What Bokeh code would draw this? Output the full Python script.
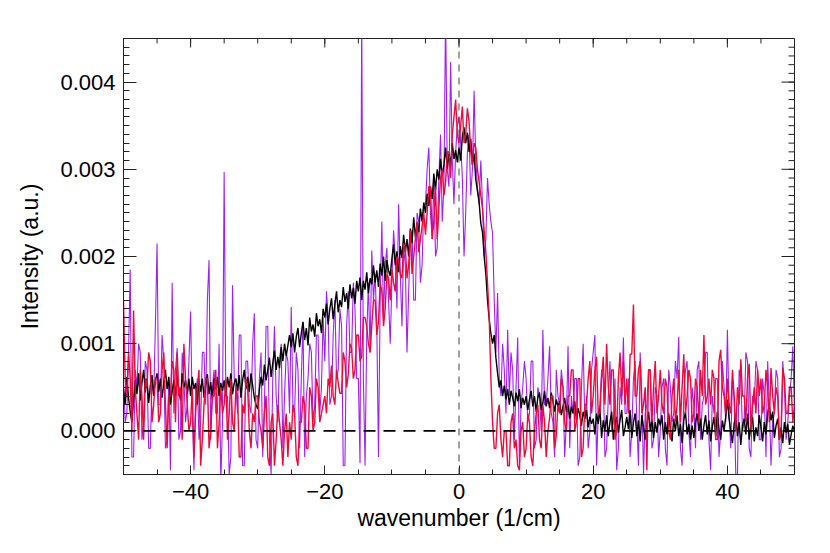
import numpy as np
from bokeh.plotting import figure
from bokeh.models import FixedTicker, NumeralTickFormatter, Range1d, Span
from bokeh.embed import file_html
from bokeh.resources import INLINE

# wavenumber grid (1/cm), 0.25 step
wavenumber = np.linspace(-50, 50, 401)

# intensities in units of 1e-5 (a.u.); each row covers 5 cm^-1
black_e5 = [
    48, 30, 62, 38, 22, 10, 35, 58, 42, 66, 35, 55, 70, 44, 60, 32, 52, 64, 40, 58,
    66, 45, 60, 38, 55, 70, 48, 62, 30, 45, 58, 40, 62, 48, 35, 66, 50, 58, 42, 60,
    40, 62, 48, 55, 30, 58, 45, 60, 38, 52, 65, 42, 56, 36, 60, 48, 62, 40, 55, 46,
    58, 40, 62, 50, 66, 42, 55, 60, 46, 64, 38, 58, 70, 48, 62, 45, 66, 52, 38, 30,
    25, 48, 62, 52, 76, 58, 70, 84, 62, 78, 92, 70, 85, 72, 96, 80, 100, 86, 98, 110,
    96, 112, 90, 108, 118, 96, 112, 125, 104, 118, 98, 130, 114, 122, 108, 135, 120, 128, 112, 140,
    130, 146, 122, 140, 152, 128, 145, 160, 136, 150, 142, 165, 148, 158, 140, 168, 152, 164, 146, 172,
    160, 176, 150, 172, 162, 182, 158, 175, 168, 190, 170, 184, 165, 192, 178, 200, 172, 196, 184, 178,
    198, 214, 190, 206, 182, 212, 198, 225, 205, 220, 200, 232, 215, 245, 222, 238, 228, 255, 240, 262,
    250, 272, 258, 280, 266, 295, 276, 300, 288, 312, 292, 305, 325, 300, 318, 305, 330, 312, 322, 308,
    325, 310, 338, 348, 330, 342, 320, 335, 305, 318, 288, 275, 262, 238, 228, 200, 180, 150, 128, 112,
    100, 110, 84, 66, 50, 58, 40, 52, 36, 48, 30, 46, 38, 28, 44, 34, 48, 26, 38, 30,
    40, 24, 36, 46, 28, 40, 22, 38, 44, 24, 32, 46, 28, 38, 26, 44, 34, 22, 36, 28,
    34, 18, 28, 38, 22, 30, 14, 28, 20, 34, 12, 26, 18, 6, 22, 14, 24, 4, 16, 8,
    14, -4, 20, 8, 26, -8, 12, 0, 18, -6, 10, 22, -10, 6, 16, -2, 12, 24, -6, 4,
    16, 2, 24, -8, 10, 20, -6, 12, -12, 18, 4, -10, 8, 22, 0, 14, -8, 10, -2, 14,
    6, 18, -10, 10, -4, 20, 2, -12, 14, 0, 18, -6, 8, -14, 12, 22, -4, 8, -10, 6,
    -8, 10, 20, 0, 14, -10, 6, 18, -4, 12, -12, 4, 16, -6, 22, 2, -10, 12, 0, 16,
    36, 14, 0, -14, 8, 18, -6, 10, -16, 6, 14, -4, 20, -10, 6, 16, -12, 4, -6, 18,
    4, -12, 10, -4, 20, 30, 12, 22, -8, 6, 14, -10, 4, -14, 10, -2, 8, -16, -4, 6,
    0,
]

purple_e5 = [
    60, 10, 20, 90, 185, -30, -30, 70, 50, 100, 90, -10, 10, 80, 70, -20, -20, 60, 40, 120,
    215, 30, 30, 110, 80, -20, -10, 60, -45, 170, 20, 70, 95, -10, 0, 90, 60, 10, 30, 80,
    137, 20, -45, 40, 60, -10, 10, 90, 90, 30, 150, 196, -10, 50, 70, 20, 20, 100, -60, 10,
    297, 40, 40, -50, -30, 167, 60, 50, 20, 110, 110, -40, -40, 80, 80, 30, 20, 100, 135, -10,
    -20, 60, 90, -30, 30, 120, 120, -10, -50, 60, 120, 40, 10, 80, 100, -20, 40, 90, 80, 20,
    142, 30, 20, 90, 70, -20, 60, 125, -30, 40, 60, 100, 90, 10, 30, 110, 110, 20, 50, 130,
    80, 160, 130, 30, 40, 110, 150, 60, 70, 140, 120, -40, -40, 120, 160, 90, 90, 170, 140, 60,
    60, -37, 480, 60, -40, 110, 170, 90, 207, 150, 180, 120, -30, 150, 240, 130, 190, 210, 150, 100,
    170, 230, 200, 140, 260, 180, 120, 210, 190, 90, 160, 220, 230, 150, 150, 250, 240, 170, 190, 260,
    260, 300, 325, 250, 220, 290, 200, 210, 290, 340, 240, 280, 480, 300, 280, 423, 310, 260, 320, 350,
    360, 330, 290, 200, 250, 320, 340, 270, 300, 390, 310, 280, 260, 310, 260, 200, 220, 290, 260, 240,
    227, 150, 90, 158, 60, 40, 100, 70, 20, 116, 40, 90, 70, -10, 50, 107, -37, 30, 50, 80,
    60, 10, 20, 80, 80, -20, -10, 50, 40, 0, 116, 30, 30, 60, 97, 20, 10, -30, 70, 40,
    30, 70, 50, -30, 10, 97, -20, 40, 20, 60, 60, -40, -30, 50, 100, 10, 40, -20, 0, 70,
    90, 110, -40, 20, 30, 70, 60, -30, -20, 40, 80, 0, 10, 60, -45, -20, 50, 30, 107, 20,
    20, 60, -30, 0, 60, 80, 10, -40, 90, 40, -50, 20, 30, 70, 70, -20, -10, 50, 40, -30,
    0, 50, 60, -20, -40, 70, 50, 10, 20, 80, 60, 108, -20, -40, 40, 70, 80, 0, -30, 50,
    30, -20, 70, 80, -10, 30, 40, 90, 90, -10, -45, 40, 20, 60, 60, -30, 0, 80, 50, 10,
    116, 20, -20, 60, 40, -50, -50, 70, 60, 0, 10, 90, 80, -20, -30, 40, 30, 80, 70, -10,
    -10, 60, 40, -30, 80, 30, -40, 10, 20, 70, 60, -30, -20, 80, 50, -10, 10, 40, 60, 97,
    20,
]

red_e5 = [
    150, 60, 40, 90, 60, 0, 138, 50, 20, -10, 70, 40, -10, 60, 50, 90, 80, 10, 30, 60,
    60, 10, 20, 70, 90, 30, -20, 40, 40, 80, 70, 10, 90, 40, 50, -10, 100, 60, 30, 0,
    10, 50, -30, 20, 50, 70, -40, -10, 30, 60, 60, -20, 0, 40, 40, 70, -20, 10, 50, 20,
    30, 60, -10, 20, 60, 10, 0, 50, 40, -30, -30, 30, 20, 60, 50, 0, -20, 20, 10, 40,
    40, 10, 0, -20, 20, 40, -30, -40, 10, 20, -40, -10, 30, 10, -10, -40, 0, 20, -30, 10,
    -10, 30, 20, -30, -40, 10, 10, 40, 30, -20, -20, 50, 40, 0, 10, 60, 50, 10, 20, 30,
    40, 20, 60, 50, 75, 40, 30, 70, 55, 43, 43, 90, 80, 50, 65, 100, 95, 60, 70, 110,
    110, 80, 85, 130, 130, 120, 100, 90, 120, 150, 150, 110, 125, 170, 160, 120, 140, 180, 175, 150,
    185, 170, 160, 200, 195, 180, 175, 215, 210, 175, 190, 230, 180, 200, 220, 240, 205, 220, 235, 250,
    225, 250, 280, 280, 220, 240, 280, 220, 255, 290, 300, 270, 285, 320, 320, 290, 340, 360, 380, 340,
    330, 350, 372, 330, 340, 370, 355, 320, 305, 330, 325, 300, 285, 270, 255, 230, 205, 170, 130, 60,
    10, -20, -20, 20, 30, -10, -30, 0, 0, -40, -40, 10, 20, -20, -10, -40, -45, 0, 10, -30,
    -20, 20, 10, -30, -40, 0, 20, 30, -10, -20, 30, 10, -30, 0, 15, 40, 40, -20, -5, 30,
    20, 60, 50, 10, 0, 40, 40, 70, 70, 0, 10, 60, 60, -30, -20, 30, 30, 60, 80, 20,
    40, 70, 85, 20, 20, 60, 85, 30, 100, 50, 30, 70, 70, -10, 0, 60, 90, 40, 80, 30,
    60, 20, 88, 88, 145, 40, 40, 70, 80, 20, 30, 50, -45, 70, 70, 10, 50, 80, 20, 40,
    70, 30, 20, 60, 50, 0, -10, 40, 60, 10, 30, 70, 10, 50, 88, 20, 40, 70, 60, 10,
    20, 60, 50, 10, 70, 40, 110, 30, 40, 60, 30, 70, 60, -10, -10, 80, 93, 50, 40, 20,
    60, 30, 20, 70, 40, 0, 50, 30, 82, 40, 40, 10, 60, 77, 0, 30, 50, 20, 70, 40,
    60, 20, 30, 70, 50, 10, 72, 40, 20, 50, 40, -10, 0, 72, 60, 20, 20, 50, 50, 10,
    30,
]

x_major = [-40, -20, 0, 20, 40]
x_minor = list(range(-50, 51, 5))
y_major = [0.0, 0.001, 0.002, 0.003, 0.004]
y_minor = [round(-0.0005 + 0.0001 * i, 4) for i in range(51)]

assert len(black_e5) == len(purple_e5) == len(red_e5) == len(wavenumber)

scale = 1e-5
black = np.array(black_e5) * scale
purple = np.array(purple_e5) * scale
red = np.array(red_e5) * scale

X0, X1, Y0, Y1 = -50, 50, -0.0005, 0.0045
FONT = "Liberation Sans"
AX = "#222222"

p = figure(width=822, height=545, output_backend="svg", toolbar_location=None,
           x_range=Range1d(X0, X1), y_range=Range1d(Y0, Y1),
           x_axis_label="wavenumber (1/cm)", y_axis_label="Intensity (a.u.)",
           min_border_left=123, min_border_right=28, min_border_top=38,
           min_border_bottom=71)
p.grid.visible = False
p.outline_line_color = AX
p.outline_line_width = 1
p.background_fill_color = "white"
p.border_fill_color = "white"

p.line(wavenumber, purple, line_color="#A020F0", line_width=1.1)
p.line(wavenumber, black, line_color="black", line_width=1.4)
p.line(wavenumber, red, line_color="#EC0A3C", line_width=1.4)

p.add_layout(Span(location=0, dimension="width", line_color="black",
                  line_width=1.6, line_dash="12 8"))
p.add_layout(Span(location=0, dimension="height", line_color="#444444",
                  line_width=1, line_dash="7 6"))

xa = p.xaxis[0]
xa.ticker = FixedTicker(ticks=x_major, minor_ticks=x_minor)
xa.major_tick_in, xa.major_tick_out = 9, 0
xa.minor_tick_in, xa.minor_tick_out = 5, 0
xa.major_label_standoff = 9
xa.axis_label_standoff = 3

ya = p.yaxis[0]
ya.ticker = FixedTicker(ticks=y_major, minor_ticks=y_minor)
ya.formatter = NumeralTickFormatter(format="0.000")
ya.major_tick_in, ya.major_tick_out = 13, 0
ya.minor_tick_in, ya.minor_tick_out = 6, 0
ya.major_label_standoff = 8
ya.axis_label_standoff = 14

for ax in (xa, ya):
    ax.axis_line_color = AX
    ax.major_tick_line_color = AX
    ax.minor_tick_line_color = AX
    ax.major_label_text_font = FONT
    ax.major_label_text_color = "black"
    ax.major_label_text_font_size = "22px"
    ax.axis_label_text_font = FONT
    ax.axis_label_text_font_size = "23px"
    ax.axis_label_text_font_style = "normal"
    ax.axis_label_text_color = "black"

# mirrored ticks on the top and right frame edges
p.ray(x=x_major, y=[Y1] * len(x_major), length=9, length_units="screen",
      angle=-np.pi / 2, line_color=AX, line_width=1)
p.ray(x=x_minor, y=[Y1] * len(x_minor), length=5, length_units="screen",
      angle=-np.pi / 2, line_color=AX, line_width=1)
p.ray(x=[X1] * len(y_major), y=y_major, length=13, length_units="screen",
      angle=np.pi, line_color=AX, line_width=1)
p.ray(x=[X1] * len(y_minor), y=y_minor, length=6, length_units="screen",
      angle=np.pi, line_color=AX, line_width=1)

open("out.html", "w").write(file_html(p, INLINE))
